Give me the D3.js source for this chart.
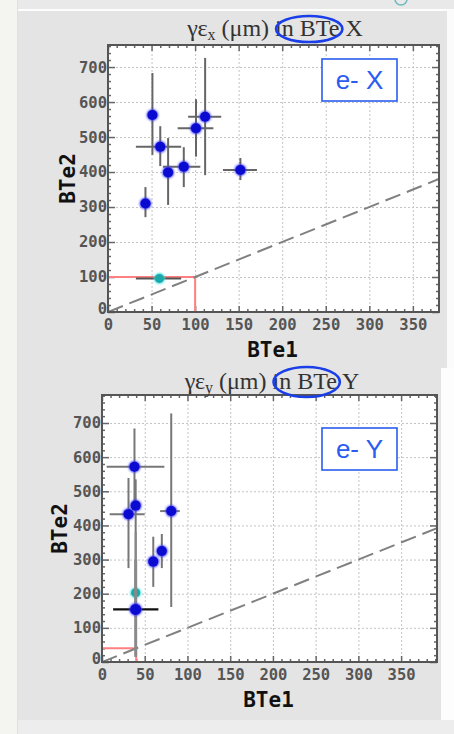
<!DOCTYPE html>
<html><head><meta charset="utf-8">
<script src="https://cdn.jsdelivr.net/npm/d3@7"></script>
<style>
html,body{margin:0;padding:0;background:#f4f4f0;}
svg{display:block;}
</style></head>
<body>
<svg id="c" width="454" height="734"></svg>
<script>
// ---------- DATA ----------
const xTickValues = [0, 50, 100, 150, 200, 250, 300, 350];
const yTickValues = [0, 100, 200, 300, 400, 500, 600, 700];

// Panel X: emittance gamma*eps_x (um), BTe1 vs BTe2
const xBte1 = [51, 60, 69, 87, 101, 111.5, 43, 152];
const xBte2 = [563, 472, 399, 415, 525, 558, 310, 406];
const xBte1Lo = [49, 32, 67, 63, 80, 92, 38, 132];
const xBte1Hi = [53, 84, 71, 106, 121, 130, 49, 171];
const xBte2Lo = [449, 417, 306, 357, 444, 391, 271, 377];
const xBte2Hi = [683, 531, 497, 471, 608, 726, 357, 440];
// reference point (cyan)
const xRefBte1 = [59];
const xRefBte2 = [96];
const xRefBte1Lo = [32];
const xRefBte1Hi = [84];
const xRefBte2Lo = [92];
const xRefBte2Hi = [100];
const xLimit = 100;

// Panel Y
const yBte1 = [38, 39.4, 31, 81, 60, 70];
const yBte2 = [572, 458, 433, 442, 294, 325];
const yBte1Lo = [5.5, 37, 9, 68, 58, 68];
const yBte1Hi = [73, 42, 50, 91, 62, 72];
const yBte2Lo = [462, 378, 275, 161, 220, 275];
const yBte2Hi = [684, 535, 539, 728, 367, 375];
// highlighted point (black horizontal bar)
const yHiBte1 = [39.4];
const yHiBte2 = [154];
const yHiBte1Lo = [13];
const yHiBte1Hi = [66];
const yHiBte2Lo = [15];
const yHiBte2Hi = [300];
// reference point (cyan)
const yRefBte1 = [39.4];
const yRefBte2 = [203];
const yRefBte1Lo = [37];
const yRefBte1Hi = [42];
const yRefBte2Lo = [160];
const yRefBte2Hi = [380];
const yLimit = 40;

// ---------- DRAW ----------
const svg = d3.select("#c");
const defs = svg.append("defs");
const blur = defs.append("filter").attr("id","soft").attr("x","-50%").attr("y","-50%").attr("width","200%").attr("height","200%");
blur.append("feGaussianBlur").attr("stdDeviation",0.8);

// page background pieces
svg.append("rect").attr("x",0).attr("y",0).attr("width",454).attr("height",734).attr("fill","#f4f4f0");
svg.append("rect").attr("x",18).attr("y",0).attr("width",436).attr("height",9).attr("fill","#e9e9e9");
svg.append("rect").attr("x",447).attr("y",9).attr("width",7).attr("height",725).attr("fill","#fbfbfb");
svg.append("rect").attr("x",18).attr("y",9).attr("width",429).attr("height",2).attr("fill","#fdfdfd");
svg.append("rect").attr("x",18).attr("y",11).attr("width",429).attr("height",357).attr("fill","#e4e4e4");
svg.append("rect").attr("x",441).attr("y",368).attr("width",13).attr("height",366).attr("fill","#fdfdfd");
svg.append("rect").attr("x",18).attr("y",368).attr("width",423).attr("height",352).attr("fill","#e4e4e4");
svg.append("rect").attr("x",18).attr("y",720).attr("width",436).attr("height",14).attr("fill","#ededed");
svg.append("line").attr("x1",17.5).attr("x2",17.5).attr("y1",0).attr("y2",734).attr("stroke","#e2e2dc").attr("stroke-width",1);
svg.append("circle").attr("cx",401).attr("cy",-1).attr("r",6).attr("fill","none").attr("stroke","#6bb8c0").attr("stroke-width",1.5);

function panel(cfg) {
  const g = svg.append("g");
  const x = d3.scaleLinear().domain(cfg.xDomain).range([cfg.left, cfg.right]);
  const y = d3.scaleLinear().domain(cfg.yDomain).range([cfg.bottom, cfg.top]);
  const W = cfg.right - cfg.left, H = cfg.bottom - cfg.top;
  const clipId = "clip" + cfg.id;
  defs.append("clipPath").attr("id", clipId).append("rect")
    .attr("x", cfg.left).attr("y", cfg.top).attr("width", W).attr("height", H);

  g.append("rect").attr("x", cfg.left).attr("y", cfg.top).attr("width", W).attr("height", H).attr("fill", "#fff");

  // grid
  const grid = g.append("g").attr("class","grid");
  grid.append("g").attr("transform", `translate(0,${cfg.bottom})`)
    .call(d3.axisBottom(x).tickValues(xTickValues.slice(1)).tickSize(-H).tickFormat(""));
  grid.append("g").attr("transform", `translate(${cfg.left},0)`)
    .call(d3.axisLeft(y).tickValues(yTickValues.slice(1)).tickSize(-W).tickFormat(""));
  grid.selectAll(".domain").remove();
  grid.selectAll("line").attr("stroke","#c4c4c4").attr("stroke-dasharray","2,2").attr("stroke-width",1);

  const xMinor = d3.range(0, cfg.xDomain[1], 10).filter(v => v % 50 !== 0);
  const yMinor = d3.range(0, cfg.yDomain[1], 20).filter(v => v % 100 !== 0);

  const font = "'DejaVu Sans Mono', monospace";
  function styleAxis(sel) {
    sel.select(".domain").remove();
    sel.selectAll("line").attr("stroke","#666").attr("stroke-width",1.5);
    sel.selectAll("text").attr("font-family",font).attr("font-weight","bold").attr("font-size",15.5).attr("fill","#555");
  }
  // bottom
  g.append("g").attr("transform", `translate(0,${cfg.bottom})`)
    .call(d3.axisBottom(x).tickValues(xTickValues).tickSize(-6).tickPadding(7)).call(styleAxis);
  g.append("g").attr("transform", `translate(0,${cfg.bottom})`)
    .call(d3.axisBottom(x).tickValues(xMinor).tickSize(-3).tickFormat("")).call(styleAxis);
  // top
  g.append("g").attr("transform", `translate(0,${cfg.top})`)
    .call(d3.axisTop(x).tickValues(xTickValues).tickSize(-6).tickFormat("")).call(styleAxis);
  g.append("g").attr("transform", `translate(0,${cfg.top})`)
    .call(d3.axisTop(x).tickValues(xMinor).tickSize(-3).tickFormat("")).call(styleAxis);
  // left
  const yl = g.append("g").attr("transform", `translate(${cfg.left},0)`)
    .call(d3.axisLeft(y).tickValues(yTickValues).tickSize(-7).tickPadding(1)).call(styleAxis);
  yl.selectAll(".tick text").filter(d => d === 0).attr("dy", "0.1em");
  g.append("g").attr("transform", `translate(${cfg.left},0)`)
    .call(d3.axisLeft(y).tickValues(yMinor).tickSize(-3).tickFormat("")).call(styleAxis);
  // right
  g.append("g").attr("transform", `translate(${cfg.right},0)`)
    .call(d3.axisRight(y).tickValues(yTickValues).tickSize(-7).tickFormat("")).call(styleAxis);
  g.append("g").attr("transform", `translate(${cfg.right},0)`)
    .call(d3.axisRight(y).tickValues(yMinor).tickSize(-3).tickFormat("")).call(styleAxis);

  const inner = g.append("g").attr("clip-path", `url(#${clipId})`);

  // limit lines (red)
  inner.append("line").attr("x1", x(0)).attr("x2", x(cfg.limit)).attr("y1", y(cfg.limit)).attr("y2", y(cfg.limit))
    .attr("stroke","#ff8080").attr("stroke-width",2);
  inner.append("line").attr("x1", x(cfg.limit)).attr("x2", x(cfg.limit)).attr("y1", y(0)).attr("y2", y(cfg.limit))
    .attr("stroke","#ff8080").attr("stroke-width",2);
  // diagonal y = x
  inner.append("line").attr("x1", x(0)).attr("y1", y(0)).attr("x2", x(cfg.xDomain[1])).attr("y2", y(cfg.xDomain[1]))
    .attr("stroke","#808080").attr("stroke-width",2).attr("stroke-dasharray","16,7");

  // series
  cfg.series.forEach(s => {
    const pts = s.x.map((v, i) => ({x: v, y: s.y[i], xl: s.xl[i], xh: s.xh[i], yl: s.yl[i], yh: s.yh[i]}));
    const sg = inner.append("g");
    sg.selectAll(".vb").data(pts).join("line")
      .attr("x1", d => x(d.x)).attr("x2", d => x(d.x)).attr("y1", d => y(d.yl)).attr("y2", d => y(d.yh))
      .attr("stroke", s.vbar).attr("stroke-width", s.vw);
    sg.selectAll(".hb").data(pts).join("line")
      .attr("x1", d => x(d.xl)).attr("x2", d => x(d.xh)).attr("y1", d => y(d.y)).attr("y2", d => y(d.y))
      .attr("stroke", s.hbar).attr("stroke-width", s.hw);
    sg.selectAll("circle.glow").data(pts).join("circle").attr("class","glow")
      .attr("cx", d => x(d.x)).attr("cy", d => y(d.y)).attr("r", s.r + 0.8)
      .attr("fill", s.glow).attr("filter","url(#soft)");
    sg.selectAll("circle.pt").data(pts).join("circle").attr("class","pt")
      .attr("cx", d => x(d.x)).attr("cy", d => y(d.y)).attr("r", s.r)
      .attr("fill", s.color);
  });

  // frame
  g.append("rect").attr("x", cfg.left).attr("y", cfg.top).attr("width", W).attr("height", H)
    .attr("fill","none").attr("stroke","#555").attr("stroke-width",2);

  // legend box
  g.append("rect").attr("x", cfg.boxX).attr("y", cfg.boxY).attr("width", 75).attr("height", 42)
    .attr("fill","#fff").attr("stroke","#2a5cf0").attr("stroke-width",1.6);
  g.append("text").attr("x", cfg.boxX + 37.5).attr("y", cfg.boxY + 30).attr("text-anchor","middle")
    .attr("font-family","'Liberation Sans', Arial, sans-serif").attr("font-size",26).attr("fill","#2a5cf0")
    .text(cfg.label);

  // axis titles
  g.append("text").attr("x", (cfg.left + cfg.right) / 2 - 1).attr("y", cfg.bottom + 45).attr("text-anchor","middle")
    .attr("font-family",font).attr("font-weight","bold").attr("font-size",21).attr("fill","#111").text("BTe1");
  g.append("text").attr("transform", `translate(${cfg.ytx},${(cfg.top + cfg.bottom) / 2}) rotate(-90)`)
    .attr("text-anchor","middle")
    .attr("font-family",font).attr("font-weight","bold").attr("font-size",21).attr("fill","#111").text("BTe2");

  // title
  const t = g.append("text").attr("x", cfg.titleX).attr("y", cfg.titleY).attr("text-anchor","middle")
    .attr("font-family","'Liberation Serif', 'Times New Roman', serif").attr("font-size",24).attr("fill","#333");
  t.append("tspan").text("γε");
  t.append("tspan").attr("baseline-shift","-28%").attr("font-size",16).text(cfg.sub);
  t.append("tspan").text(" (μm) in BTe " + cfg.plane);
  // ellipse around "n BTe" (the 'i' is hidden under its left edge)
  const node = t.node();
  const xi = node.getStartPositionOfChar(9).x;   // 'i'
  const xe = node.getEndPositionOfChar(14).x;    // 'e'
  const x0 = xi + 1, x1 = xe + 3;
  g.append("ellipse").attr("cx", (x0 + x1) / 2).attr("cy", cfg.titleY - 7).attr("rx", (x1 - x0) / 2).attr("ry", cfg.ellRy)
    .attr("fill","none").attr("stroke","#1a3ee8").attr("stroke-width",2.6);
}

panel({
  id: "X", left: 108, right: 439, top: 45, bottom: 312,
  xDomain: [0, 380], yDomain: [0, 763], limit: xLimit,
  boxX: 322, boxY: 59, label: "e- X", ytx: 75,
  titleX: 275, titleY: 36, sub: "x", plane: "X", ellRy: 13,
  series: [
    {x: xBte1, y: xBte2, xl: xBte1Lo, xh: xBte1Hi, yl: xBte2Lo, yh: xBte2Hi,
     color: "#0a0ad0", glow: "#3a3aff", vbar: "#666", hbar: "#666", vw: 2, hw: 2, r: 5},
    {x: xRefBte1, y: xRefBte2, xl: xRefBte1Lo, xh: xRefBte1Hi, yl: xRefBte2Lo, yh: xRefBte2Hi,
     color: "#1aa8a8", glow: "#40e0e0", vbar: "#555", hbar: "#555", vw: 2, hw: 2, r: 4.5}
  ]
});

panel({
  id: "Y", left: 102, right: 437, top: 395, bottom: 662,
  xDomain: [0, 392], yDomain: [0, 782], limit: yLimit,
  boxX: 322, boxY: 428, label: "e- Y", ytx: 67,
  titleX: 272, titleY: 389, sub: "y", plane: "Y", ellRy: 15,
  series: [
    {x: yBte1, y: yBte2, xl: yBte1Lo, xh: yBte1Hi, yl: yBte2Lo, yh: yBte2Hi,
     color: "#0a0ad0", glow: "#3a3aff", vbar: "#777", hbar: "#777", vw: 2, hw: 2, r: 5},
    {x: yRefBte1, y: yRefBte2, xl: yRefBte1Lo, xh: yRefBte1Hi, yl: yRefBte2Lo, yh: yRefBte2Hi,
     color: "#1aa8a8", glow: "#40e0e0", vbar: "#888", hbar: "#888", vw: 2.5, hw: 2, r: 4.5},
    {x: yHiBte1, y: yHiBte2, xl: yHiBte1Lo, xh: yHiBte1Hi, yl: yHiBte2Lo, yh: yHiBte2Hi,
     color: "#0a0ad0", glow: "#3a3aff", vbar: "#8a8a8a", hbar: "#111", vw: 3, hw: 2.2, r: 5.5}
  ]
});
</script>
</body></html>
